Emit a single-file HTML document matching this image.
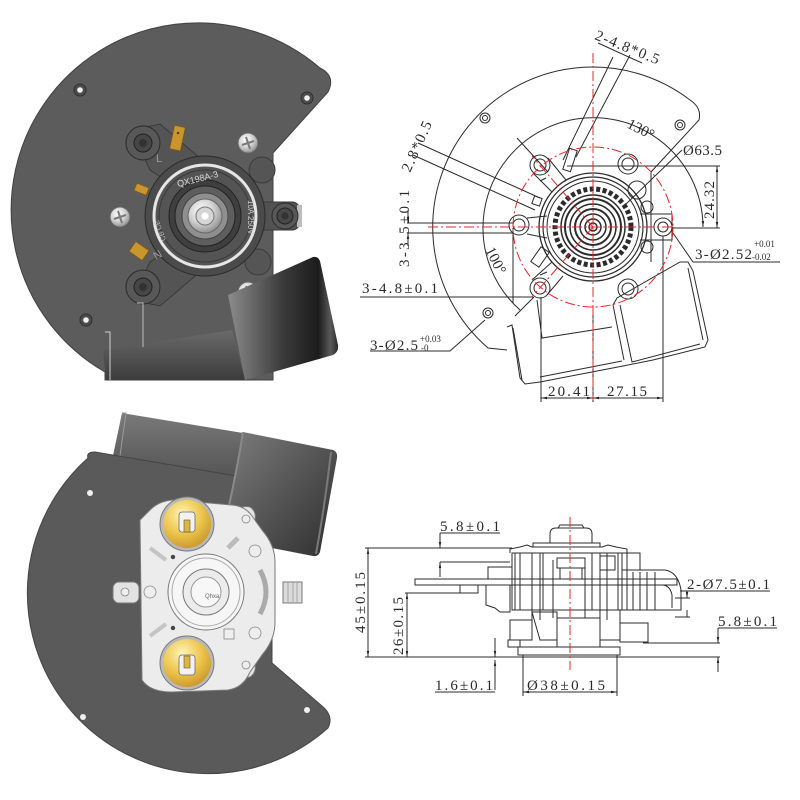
<!DOCTYPE html>
<html><head><meta charset="utf-8"><title>Thermostat drawing</title>
<style>
html,body{margin:0;padding:0;background:#fff;width:800px;height:800px;overflow:hidden}
svg{display:block}
.d{font-family:"Liberation Serif","Noto Serif CJK SC",serif;fill:#2a2a2a;font-size:15px}
.s{font-family:"Liberation Serif","Noto Serif CJK SC",serif;fill:#2a2a2a;font-size:9px}
.ln{stroke:#2b2b2b;stroke-width:1;fill:none}
.rd{stroke:#e8262b;stroke-width:1;fill:none;stroke-dasharray:10 3 2 3}
</style></head><body>
<svg width="800" height="800" viewBox="0 0 800 800" xmlns="http://www.w3.org/2000/svg">
<defs>
 <radialGradient id="sv" cx="0.4" cy="0.35" r="0.7"><stop offset="0" stop-color="#ffffff"/><stop offset="0.5" stop-color="#d4d4d4"/><stop offset="1" stop-color="#8a8a8a"/></radialGradient>
 <radialGradient id="gd" cx="0.4" cy="0.3" r="0.75"><stop offset="0" stop-color="#fff4b8"/><stop offset="0.55" stop-color="#ecc54c"/><stop offset="1" stop-color="#c9952a"/></radialGradient>
 <linearGradient id="tb1" x1="0" y1="0" x2="0" y2="1"><stop offset="0" stop-color="#6a6a6a"/><stop offset="1" stop-color="#3c3c3c"/></linearGradient>
 <linearGradient id="tb2" x1="0" y1="0" x2="1" y2="0"><stop offset="0" stop-color="#8c8c8c"/><stop offset="0.5" stop-color="#3a3a3a"/><stop offset="0.82" stop-color="#1c1c1c"/><stop offset="0.93" stop-color="#5a5a5a"/><stop offset="1" stop-color="#2a2a2a"/></linearGradient>
 <linearGradient id="tb3" x1="0" y1="0" x2="0" y2="1"><stop offset="0" stop-color="#7a7a7a"/><stop offset="0.5" stop-color="#626262"/><stop offset="1" stop-color="#4e4e4e"/></linearGradient>
 <linearGradient id="tb4" x1="0" y1="0" x2="1" y2="1"><stop offset="0" stop-color="#7c7c7c"/><stop offset="0.5" stop-color="#555"/><stop offset="1" stop-color="#2e2e2e"/></linearGradient>
 <marker id="ar" viewBox="0 0 10 10" refX="10" refY="5" markerWidth="6" markerHeight="6" orient="auto-start-reverse"><path d="M0,3 L10,5 L0,7 z" fill="#222"/></marker>
</defs>

<!-- ============ TOP LEFT ============ -->
<path d="M105,380 L105,372 A187,187 0 1 1 320,68 Q336,76 328,92 L273,153 L273,380 Z" fill="#5c5c5c" stroke="#404040"/>
<g fill="#4d4d4d" stroke="#2f2f2f"><circle cx="80" cy="90" r="6"/><circle cx="307" cy="98" r="6"/><circle cx="86" cy="320" r="6"/></g>
<g fill="#f2f2f2"><circle cx="80" cy="90" r="2.8"/><circle cx="307" cy="98" r="2.8"/><circle cx="86" cy="320" r="2.8"/></g>
<!-- flange -->
<g stroke="#3a3a3a" stroke-width="1">
<path d="M132,130 L160,124 L208,165 L188,195 L150,170 Z" fill="#545454"/>
<path d="M132,300 L160,306 L208,265 L188,238 L150,262 Z" fill="#545454"/>
<rect x="258" y="202" width="42" height="28" rx="8" fill="#525252"/>
<circle cx="262" cy="170" r="13" fill="#555"/>
<circle cx="258" cy="262" r="13" fill="#555"/>
</g>
<rect x="297" y="205" width="5" height="22" fill="#bdbdbd"/>
<g stroke="#2c2c2c"><circle cx="143" cy="143" r="17" fill="#585858"/><circle cx="143" cy="287" r="17" fill="#585858"/><circle cx="285" cy="216" r="13" fill="#585858"/></g>
<g stroke="#222"><circle cx="143" cy="143" r="9" fill="#474747"/><circle cx="143" cy="287" r="9" fill="#474747"/><circle cx="285" cy="216" r="8" fill="#474747"/></g>
<g fill="#333"><circle cx="143" cy="143" r="4"/><circle cx="143" cy="287" r="4"/><circle cx="285" cy="216" r="3.5"/></g>
<!-- thermostat body -->
<circle cx="205" cy="216" r="60" fill="#4b4b4b" stroke="#2a2a2a"/>
<circle cx="205" cy="216" r="51" fill="#545454" stroke="#e6e6e6" stroke-width="3"/>
<circle cx="205" cy="216" r="46" fill="none" stroke="#3a3a3a"/>
<circle cx="205" cy="216" r="36" fill="#3f3f3f" stroke="#222"/>
<circle cx="205" cy="216" r="30" fill="#5e5e5e" stroke="#222"/>
<circle cx="205" cy="216" r="23" fill="#8f8f8f" stroke="#444"/>
<circle cx="205" cy="216" r="17" fill="url(#sv)" stroke="#666"/>
<circle cx="205" cy="216" r="9" fill="#d6d6d6" stroke="#777"/>
<circle cx="205" cy="216" r="3.5" fill="#fff"/>
<text x="0" y="0" transform="translate(178,187) rotate(-14)" font-family="Liberation Sans,sans-serif" font-size="9" fill="#d8d8d8">QX198A-3</text>
<text x="0" y="0" transform="translate(248,200) rotate(90)" font-family="Liberation Sans,sans-serif" font-size="8" fill="#cfcfcf">10A 250V~</text>
<text x="0" y="0" transform="translate(166,240) rotate(-110)" font-family="Liberation Sans,sans-serif" font-size="7" fill="#bbb">CB CE</text>
<text x="156" y="162" font-family="Liberation Sans,sans-serif" font-size="11" fill="#9a9a9a">L</text>
<text x="0" y="0" transform="translate(156,260) rotate(-30)" font-family="Liberation Sans,sans-serif" font-size="11" fill="#9a9a9a">N</text>
<!-- terminals -->
<g fill="#c9962e" stroke="#7a5a18" stroke-width="0.8">
<rect x="-5" y="-12" width="11" height="24" transform="translate(177,138) rotate(12)"/>
<rect x="-6" y="-4" width="13" height="8" transform="translate(141,189) rotate(22)"/>
<rect x="-8" y="-6" width="16" height="12" transform="translate(139,251) rotate(35)"/>
</g>
<circle cx="178" cy="133" r="1.3" fill="#5a4010"/>
<!-- screws -->
<g stroke="#666"><circle cx="120" cy="217" r="10" fill="url(#sv)"/><circle cx="248" cy="143" r="10" fill="url(#sv)"/><circle cx="248" cy="292" r="10" fill="url(#sv)"/></g>
<g stroke="#7a7a7a" stroke-width="2"><path d="M114,219 L126,215 M118,211 L122,223"/><path d="M242,145 L254,141 M246,137 L250,149"/><path d="M242,294 L254,290 M246,286 L250,298"/></g>
<!-- tubes -->
<polygon points="103,350 232,330 245,380 106,380" fill="url(#tb1)"/>
<path d="M228,295 L313,257 Q318,256 320,261 L338,345 Q339,352 333,355 L245,380 Z" fill="url(#tb2)"/>
<path d="M105,332 L110,332 L110,380" stroke="#cfcfcf" fill="none"/>
<path d="M137,303 L143,303 L143,347" stroke="#bdbdbd" fill="none"/>

<!-- ============ TOP RIGHT ============ -->
<g class="ln">
<path d="M507,350 L488,348 A160,160 0 0 1 690,100 Q702,108 699,120 L651,172 L651,262"/>
<path d="M520,310 A110,110 0 1 1 703,227" marker-end="url(#ar)"/>
<!-- small plate holes -->
<circle cx="485" cy="118" r="5"/><circle cx="485" cy="118" r="2.5"/>
<circle cx="680" cy="125" r="5"/><circle cx="680" cy="125" r="2.5"/>
<circle cx="488" cy="313" r="5"/><circle cx="488" cy="313" r="2.5"/>
<!-- thermostat -->
<circle cx="593" cy="227" r="54" stroke-width="1.3"/>
<circle cx="593" cy="227" r="50" stroke-width="1.2"/>
<circle cx="593" cy="227" r="46"/>
<circle cx="593" cy="227" r="38" stroke-width="5" stroke-dasharray="4 2.5"/>
<circle cx="593" cy="227" r="32" stroke-width="1.5"/>
<circle cx="593" cy="227" r="28" stroke-width="2"/>
<circle cx="593" cy="227" r="23" stroke-width="1.5"/>
<circle cx="593" cy="227" r="18" stroke-width="2"/>
<circle cx="593" cy="227" r="13" stroke-width="1.5"/>
<circle cx="593" cy="227" r="8" stroke-width="1.5"/>
<circle cx="593" cy="227" r="4" stroke-width="1.5"/>
<!-- holes -->
<circle cx="540" cy="165" r="10"/><circle cx="540" cy="165" r="6"/>
<circle cx="519" cy="225" r="10"/><circle cx="519" cy="225" r="6"/>
<circle cx="540" cy="288" r="10"/><circle cx="540" cy="288" r="6"/>
<circle cx="663" cy="227" r="9"/><circle cx="663" cy="227" r="5"/>
<circle cx="628" cy="164" r="10"/><circle cx="628" cy="164" r="6"/>
<circle cx="637" cy="190" r="9"/>
<circle cx="628" cy="289" r="10"/><circle cx="628" cy="289" r="6"/>
<circle cx="647" cy="207" r="6"/><circle cx="647" cy="247" r="6"/>
<!-- flange arms -->
<path d="M548,158 L566,180 M533,173 L552,192"/>
<path d="M527,218 L547,216 M527,234 L547,238"/>
<path d="M532,280 L552,262 M547,295 L563,276"/>
<path d="M640,214 L672,214 L672,240 L640,240"/>
<path d="M540,181 L546,178 M540,275 L547,272"/>
<!-- terminals -->
<rect x="-4" y="-11" width="8" height="22" transform="translate(570,160) rotate(18)"/>
<rect x="-4" y="-4" width="8" height="8" transform="translate(537,201) rotate(20)"/>
<rect x="-5" y="-9" width="10" height="18" transform="translate(540,257) rotate(35)"/>
<!-- bracket -->
<path d="M507,327 L512,325 L520,378 L525,384 L540,382 L623,366 L653,360 L705,347 L708,340 L693,271 L688,262 L680,262 L617,298 L613,305 L624,360"/>
<path d="M513,328 L522,380"/>
<path d="M537,300 L542,338 L612,327"/>
<path d="M620,305 L632,362 L700,344"/>
<path d="M688,268 L703,340"/>
<path d="M540,377 L622,361"/>
<!-- leaders -->
<path d="M613,57 L563,160 M630,55 L576,157"/>
<path d="M598,43 L642,63"/>
<path d="M418,143 L540,198 M413,155 L535,210"/>
<path d="M682,150 L625,205"/>
<path d="M567,166 L720,166 M673,228 L720,228"/>
<path d="M717,166 L717,228" marker-start="url(#ar)" marker-end="url(#ar)"/>
<path d="M673,233 L693,262 L780,262"/>
<path d="M407,223 L513,223 M407,233 L513,233"/>
<path d="M408,210 L408,223" marker-end="url(#ar)"/>
<path d="M408,246 L408,233" marker-end="url(#ar)"/>
<path d="M513,228 L513,303"/>
<path d="M360,297 L533,297"/>
<path d="M370,351 L450,351 L485,320"/>
<path d="M548,172 L517,138 M534,297 L515,316"/>
<path d="M541,297 L541,402 M593,310 L593,402 M663,236 L663,402"/>
<path d="M541,398 L593,398" marker-start="url(#ar)" marker-end="url(#ar)"/>
<path d="M593,398 L663,398" marker-start="url(#ar)" marker-end="url(#ar)"/>
</g>
<g class="rd">
<line x1="593" y1="53" x2="593" y2="400"/>
<line x1="428" y1="227" x2="673" y2="227"/>
<circle cx="593" cy="227" r="80"/>
<line x1="593" y1="227" x2="532" y2="156"/>
<line x1="593" y1="227" x2="532" y2="297"/>
</g>
<text class="d" x="0" y="0" transform="translate(594,39) rotate(22)" textLength="68" lengthAdjust="spacing">2-4.8*0.5</text>
<text class="d" x="0" y="0" transform="translate(410,173) rotate(-65.7)" textLength="54" lengthAdjust="spacing">2.8*0.5</text>
<text class="d" x="0" y="0" transform="translate(409,267) rotate(-90)" textLength="77" lengthAdjust="spacing">3-3.5±0.1</text>
<text class="d" x="362" y="293" textLength="76" lengthAdjust="spacing">3-4.8±0.1</text>
<text class="d" x="370" y="350" textLength="48" lengthAdjust="spacing">3-Ø2.5</text>
<text class="s" x="420" y="342">+0.03</text>
<text class="s" x="421" y="351">-0</text>
<text class="d" x="0" y="0" transform="translate(485,250) rotate(63)" font-size="14">100°</text>
<text class="d" x="0" y="0" transform="translate(626,127) rotate(27)" font-size="14">130°</text>
<text class="d" x="683" y="155" textLength="39" lengthAdjust="spacing">Ø63.5</text>
<text class="d" x="0" y="0" transform="translate(714,219) rotate(-90)" textLength="38" lengthAdjust="spacing">24.32</text>
<text class="d" x="695" y="259" textLength="57" lengthAdjust="spacing">3-Ø2.52</text>
<text class="s" x="754" y="247">+0.01</text>
<text class="s" x="752" y="260">-0.02</text>
<text class="d" x="548" y="396" textLength="42" lengthAdjust="spacing">20.41</text>
<text class="d" x="607" y="396" textLength="40" lengthAdjust="spacing">27.15</text>

<!-- ============ BOTTOM LEFT ============ -->
<polygon points="122,413 243,433 238,492 110,470" fill="url(#tb3)"/>
<path d="M122,413 L126,413 L118,470" stroke="#9a9a9a" fill="none"/>
<path d="M95,452 L272,482 L272,663 L322,706 Q334,716 328,728 A179,179 0 1 1 88,458 Q86,452 95,452 Z" fill="#5a5a5a" stroke="#444"/>
<path d="M243,432 L333,450 Q338,452 337,458 L320,552 Q318,557 313,556 L272,548 L228,510 Z" fill="url(#tb4)"/>
<path d="M243,432 Q237,470 228,510" stroke="#8a8a8a" stroke-width="2" fill="none"/>
<path d="M331,452 Q325,505 316,554" stroke="#7a7a7a" stroke-width="2" fill="none"/>
<g fill="#f0f0f0"><circle cx="90" cy="493" r="3"/><circle cx="83" cy="717" r="3"/><circle cx="307" cy="710" r="3"/></g>
<!-- thermostat bottom -->
<g stroke="#7a7a7a" stroke-width="1">
<rect x="113" y="582" width="26" height="21" rx="6" fill="#e2e2e2"/>
<rect x="283" y="582" width="19" height="21" fill="#dcdcdc"/>
<path d="M236,512 Q240,505 250,507 Q258,512 254,524 L246,530 Z" fill="#e4e4e4"/>
<path d="M236,672 Q240,679 250,677 Q258,672 254,660 L246,654 Z" fill="#e4e4e4"/>
<path d="M150,510 Q160,500 175,500 L232,505 Q245,506 252,516 L262,530 Q275,545 275,562 L275,622 Q275,640 262,655 L250,672 Q243,688 228,690 L172,692 Q150,692 142,680 L140,520 Z" fill="#ececec"/>
<circle cx="187" cy="524" r="27" fill="#b9b9b9"/>
<circle cx="187" cy="663" r="27" fill="#b9b9b9"/>
</g>
<circle cx="187" cy="524" r="24" fill="url(#gd)"/>
<circle cx="187" cy="663" r="24" fill="url(#gd)"/>
<g stroke="#6a6a6a" fill="#f2f2f2" stroke-width="0.8">
<rect x="179" y="512" width="16" height="20" rx="3"/>
<rect x="179" y="655" width="16" height="20" rx="3"/>
</g>
<g fill="#d8b64a" stroke="#6a5a20" stroke-width="0.6"><rect x="184" y="520" width="6" height="12"/><rect x="184" y="656" width="6" height="12"/></g>
<g stroke="#777" fill="#f6f6f6">
<circle cx="206" cy="592" r="38"/>
<circle cx="206" cy="592" r="34" fill="none" stroke="#aaa"/>
<circle cx="206" cy="592" r="23" fill="#ececec"/>
<circle cx="206" cy="592" r="15" fill="#f7f7f7" stroke="#999"/>
</g>
<g fill="#eee" stroke="#888" stroke-width="0.8">
<circle cx="150" cy="592" r="6"/><circle cx="255" cy="551" r="6"/><circle cx="255" cy="633" r="6"/>
<circle cx="125" cy="592" r="4"/><circle cx="246" cy="519" r="4"/><circle cx="246" cy="665" r="4"/>
<rect x="224" y="629" width="10" height="10"/>
<path d="M260,570 Q272,592 260,614" fill="none" stroke-width="5" stroke="#aaa"/>
<path d="M228,548 L238,538" stroke-width="5" stroke="#bbb"/>
<path d="M150,548 L166,560 M150,636 L166,624" stroke-width="4" stroke="#c4c4c4"/>
</g>
<g fill="#444"><circle cx="173" cy="557" r="2.2"/><circle cx="173" cy="628" r="2.2"/></g>
<path d="M288,582 V603 M293,582 V603 M297,582 V603" stroke="#999" stroke-width="0.8"/>
<text x="205" y="598" font-family="Liberation Sans,sans-serif" font-size="6" fill="#666">Qhxa</text>

<!-- ============ BOTTOM RIGHT ============ -->
<g class="ln">
<path d="M550,543 L550,534 Q550,528 556,528 L586,528 Q592,528 592,534 L592,543"/>
<path d="M558,528 L560,525 L582,525 L584,528"/>
<rect x="533" y="543" width="67" height="4"/>
<path d="M510,553 L510,549 L520,547 L527,545 L532,547 L602,547 L608,545 L616,547 L627,549 L627,553"/>
<rect x="512" y="553" width="115" height="57"/>
<path d="M515,553 V610 M520,553 V610 M532,553 V620 M540,553 V620 M543,553 V610 M553,560 V618 M585,560 V618 M592,553 V610 M600,553 V620 M607,553 V620 M618,553 V610 M622,553 V610"/>
<rect x="557" y="558" width="28" height="10"/>
<rect x="560" y="568" width="22" height="11"/>
<rect x="600" y="556" width="15" height="14"/>
<rect x="488" y="567" width="24" height="12"/>
<rect x="415" y="579" width="262" height="6"/>
<rect x="460" y="585" width="18" height="8"/>
<path d="M486,585 L486,605 L495,608 L500,612 L510,612 L510,585"/>
<rect x="510" y="620" width="22" height="20"/>
<path d="M532,612 L557,612 L557,640 L540,640 Z"/>
<rect x="557" y="618" width="43" height="29"/>
<rect x="600" y="610" width="20" height="30"/>
<rect x="620" y="623" width="28" height="19"/>
<rect x="518" y="647" width="102" height="8"/>
<rect x="508" y="640" width="12" height="7"/>
<path d="M622,570 L665,570 Q678,572 681,590 L681,610 L622,610"/>
<path d="M633,572 V610 M640,572 V610 M647,572 V610 M655,572 V610"/>
<path d="M662,585 Q670,585 672,595 L672,608"/>
<path d="M627,553 L640,553 L640,570"/>
<!-- dimension lines -->
<path d="M365,548 L512,548"/>
<path d="M365,657 L720,657"/>
<path d="M368,548 L368,657" marker-start="url(#ar)" marker-end="url(#ar)"/>
<path d="M405,593 L460,593"/>
<path d="M407,593 L407,657" marker-start="url(#ar)" marker-end="url(#ar)"/>
<path d="M440,533 L500,533"/>
<path d="M440,562 L510,562"/>
<path d="M440,533 L440,548" marker-end="url(#ar)"/>
<path d="M440,577 L440,562" marker-end="url(#ar)"/>
<path d="M435,692 L495,692"/>
<path d="M495,638 L495,657" marker-end="url(#ar)"/>
<path d="M495,690 L495,660" marker-end="url(#ar)"/>
<path d="M523,655 L523,696 M617,655 L617,696"/>
<path d="M523,692 L617,692" marker-start="url(#ar)" marker-end="url(#ar)"/>
<path d="M680,591 L770,591"/>
<path d="M675,598 L690,598 M675,617 L690,617"/>
<path d="M687,591 L687,598" marker-end="url(#ar)"/>
<path d="M687,617 L687,610"/>
<path d="M718,628 L777,628"/>
<path d="M643,643 L720,643"/>
<path d="M718,628 L718,643" marker-end="url(#ar)"/>
<path d="M718,672 L718,657" marker-end="url(#ar)"/>
</g>
<line x1="570" y1="517" x2="570" y2="670" class="rd"/>
<text class="d" x="440" y="531" font-size="14" textLength="60" lengthAdjust="spacing">5.8±0.1</text>
<text class="d" x="0" y="0" transform="translate(365,633) rotate(-90)" font-size="14" textLength="61" lengthAdjust="spacing">45±0.15</text>
<text class="d" x="0" y="0" transform="translate(403,655) rotate(-90)" font-size="14" textLength="58" lengthAdjust="spacing">26±0.15</text>
<text class="d" x="435" y="690" font-size="14" textLength="58" lengthAdjust="spacing">1.6±0.1</text>
<text class="d" x="527" y="690" font-size="14" textLength="78" lengthAdjust="spacing">Ø38±0.15</text>
<text class="d" x="687" y="589" font-size="14" textLength="83" lengthAdjust="spacing">2-Ø7.5±0.1</text>
<text class="d" x="718" y="626" font-size="14" textLength="59" lengthAdjust="spacing">5.8±0.1</text>
</svg>
</body></html>
